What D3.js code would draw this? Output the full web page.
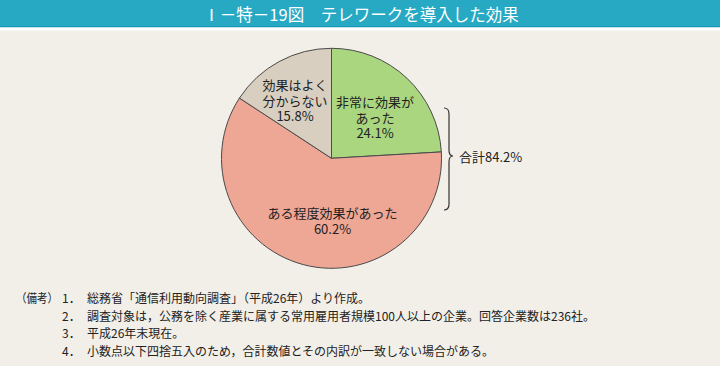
<!DOCTYPE html>
<html><head><meta charset="utf-8">
<script src="https://cdn.jsdelivr.net/npm/d3@7"></script>
<style>
html,body{margin:0;padding:0;background:#f2efe9;}
svg{display:block;}
</style></head>
<body>
<svg id="c" width="720" height="366"></svg>
<script>
const title = "Ⅰ－特－19図　テレワークを導入した効果";
const categories = [["非常に効果が","あった"],["ある程度効果があった"],["効果はよく","分からない"]];
const values = [24.1, 60.2, 15.8];
const colors = ["#aad67f", "#eea695", "#d8cfc1"];
const totalLabel = "合計84.2%";
const notesHead = "（備考）";
const notesNum = ["1．","2．","3．","4．"];
const notes = [
 "総務省「通信利用動向調査」（平成26年）より作成。",
 "調査対象は，公務を除く産業に属する常用雇用者規模100人以上の企業。回答企業数は236社。",
 "平成26年末現在。",
 "小数点以下四捨五入のため，合計数値とその内訳が一致しない場合がある。"
];

const svg = d3.select("#c");
const font = "'Noto Sans CJK JP', sans-serif";

svg.append("rect").attr("x",0).attr("y",0).attr("width",720).attr("height",366).attr("fill","#f2efe9");
svg.append("rect").attr("x",0).attr("y",0).attr("width",720).attr("height",27).attr("fill","#27a9c4");
svg.append("rect").attr("x",0).attr("y",26).attr("width",720).attr("height",1.5).attr("fill","#139ab8");
svg.append("rect").attr("x",0).attr("y",27.5).attr("width",720).attr("height",3).attr("fill","#ffffff");
svg.append("text").attr("x",361).attr("y",14).attr("text-anchor","middle").attr("dominant-baseline","central")
  .attr("fill","#fff").attr("font-family",font).attr("font-size",16.5).text(title);

const cx = 331.5, cy = 158.3, r = 110;
const pie = d3.pie().sort(null).value(d=>d)(values);
const arc = d3.arc().innerRadius(0).outerRadius(r);
const g = svg.append("g").attr("transform",`translate(${cx},${cy})`);
g.selectAll("path").data(pie).join("path")
  .attr("d",arc).attr("fill",(d,i)=>colors[i]).attr("stroke","#4a4a4a").attr("stroke-width",1);

// labels
const labelPos = [[43.5,-41],[1,62],[-36.5,-58]];
const lh = 15.5;
pie.forEach((d,i)=>{
  const lines = categories[i].concat([values[i].toFixed(1)+"%"]);
  const t = g.append("text").attr("text-anchor","middle").attr("font-family",font).attr("font-size",13).attr("fill","#222");
  const n = lines.length;
  lines.forEach((s,k)=>{
    t.append("tspan").attr("x",labelPos[i][0]).attr("y",labelPos[i][1] + (k-(n-1)/2)*lh)
      .attr("dominant-baseline","central").text(s);
  });
});

// brace
const bx = 444, by0 = 108, by1 = 210, bm = 156, bw = 5;
const brace = `M${bx},${by0} Q${bx+bw},${by0} ${bx+bw},${by0+6} L${bx+bw},${bm-6} Q${bx+bw},${bm} ${bx+bw+4},${bm} Q${bx+bw},${bm} ${bx+bw},${bm+6} L${bx+bw},${by1-6} Q${bx+bw},${by1} ${bx},${by1}`;
svg.append("path").attr("d",brace).attr("fill","none").attr("stroke","#333").attr("stroke-width",1.2);
svg.append("text").attr("x",459).attr("y",bm).attr("dominant-baseline","central").attr("font-family",font)
  .attr("font-size",13).attr("fill","#222").text(totalLabel);

// notes
const ny = [297, 315, 332.5, 350];
svg.append("text").attr("x",16).attr("y",ny[0]).attr("dominant-baseline","central").attr("font-family",font)
  .attr("font-size",12).attr("fill","#222").attr("textLength",42).attr("lengthAdjust","spacingAndGlyphs").text(notesHead);
notes.forEach((s,i)=>{
  svg.append("text").attr("x",62).attr("y",ny[i]).attr("dominant-baseline","central").attr("font-family",font)
    .attr("font-size",12).attr("fill","#222").text(notesNum[i]);
  svg.append("text").attr("x",87).attr("y",ny[i]).attr("dominant-baseline","central").attr("font-family",font)
    .attr("font-size",12).attr("fill","#222").text(s);
});
</script>
</body></html>
